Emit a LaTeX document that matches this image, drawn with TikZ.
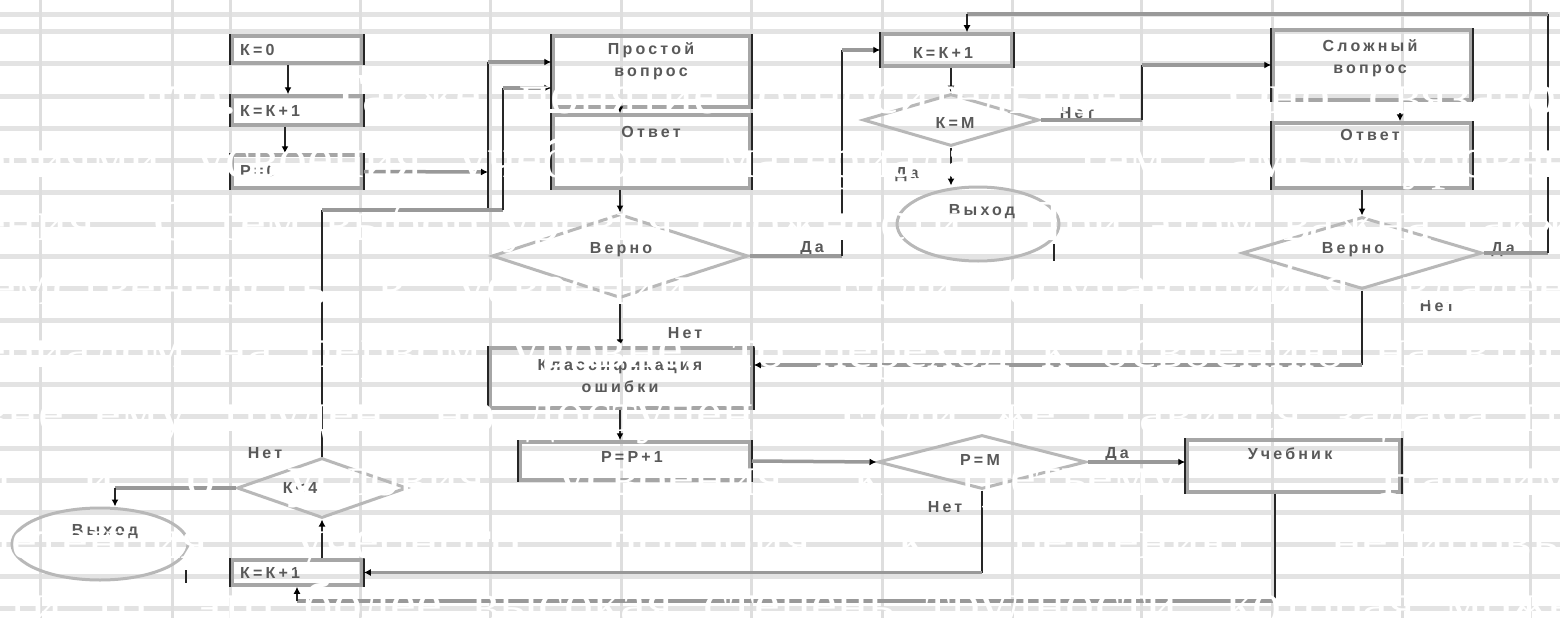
\documentclass[tikz,border=0pt]{standalone}
\usepackage{fontspec}
\setmainfont{Liberation Serif}
\newfontfamily\lblfont[LetterSpace=20]{Liberation Sans Bold}
\usetikzlibrary{arrows.meta,shapes.geometric,calc}
\newcommand\mybox[5]{%
  \node[fbox,minimum width={#4-#2},minimum height={#5-#3}] (#1) at ({(#2+#4)/2},{(#3+#5)/2}) {};
  \draw[vedge] (#1.north west) -- (#1.south west) (#1.north east) -- (#1.south east);}
\begin{document}
\begin{tikzpicture}[x=1pt,y=-1pt,
  gridv/.style={draw=black!13,line width=3pt},
  gridh/.style={draw=black!11,line width=5pt},
  fbox/.style={rectangle,draw=black!35,line width=3.5pt,inner sep=0pt},
  vedge/.style={draw=black!85,line width=2.4pt},
  dia/.style={diamond,draw=black!28,line width=3pt,inner sep=0pt},
  ell/.style={ellipse,draw=black!28,line width=3pt,inner sep=0pt},
  hl/.style={draw=black!40,line width=3.5pt},
  vl/.style={draw=black!85,line width=2.2pt},
  >={Latex[length=7pt,width=7pt,color=black]},
  lbl/.style={font=\lblfont\fontsize{16}{22}\selectfont,text=black!65,inner sep=0pt,align=center},
  wtxt/.style={font=\fontsize{58}{60}\selectfont,text=white,anchor=base west,inner sep=0pt}]
\useasboundingbox (0,0) rectangle (1560,618);
\fill[white] (0,0) rectangle (1560,618);
\clip (0,0) rectangle (1560,618);
% background grid
\foreach \yy in {15,32,64,96,128,160,192,224,256,288,320,352,384,416,448,480,512,544,576,608}
  \draw[gridh] (0,\yy) -- (1560,\yy);
\foreach \xx in {40,172,230,360,490,621,751,882,1012,1141,1272,1402,1530}
  \draw[gridv] (\xx,0) -- (\xx,618);
% boxes
\mybox{k0}{232}{36}{362}{63}
\mybox{k1}{232}{96}{362}{125}
\mybox{p0}{232}{155}{362}{188}
\mybox{q1}{553}{36}{750}{107}
\mybox{a1}{553}{115}{750}{188}
\mybox{e1}{490}{348}{752}{408}
\mybox{p1}{520}{442}{750}{480}
\mybox{u1}{1187}{440}{1400}{492}
\mybox{km}{882}{34}{1012}{66}
\mybox{q2}{1273}{30}{1471}{100}
\mybox{a2}{1273}{123}{1471}{188}
\mybox{k2}{232}{560}{362}{585}
% diamonds
\node[dia,minimum width=256pt,minimum height=84pt] (d1) at (620,256) {};
\node[dia,minimum width=176pt,minimum height=52pt] (d3) at (951,120) {};
\node[dia,minimum width=208pt,minimum height=54pt] (d2) at (982,462) {};
\node[dia,minimum width=240pt,minimum height=72pt] (d4) at (1362,253) {};
\node[dia,minimum width=170pt,minimum height=60pt] (d5) at (322,488) {};
% terminators
\node[ell,minimum width=162pt,minimum height=74pt] (x1) at (978,224) {};
\draw[vl] ($(x1.center)+(76,20)$) -- ($(x1.center)+(76,37)$);
\node[ell,minimum width=176pt,minimum height=72pt] (x2) at (100,544) {};
\draw[vl] ($(x2.center)+(86,26)$) -- ($(x2.center)+(86,39)$);
% labels
\node[lbl,anchor=west] (tk0) at (240,50) {К=0};
\node[lbl,anchor=west] (tk1) at (240,111) {К=К+1};
\node[lbl,anchor=west] (tp0) at (240,171) {Р=0};
\node[lbl,anchor=west] (tk2) at (240,573) {К=К+1};
\node[lbl] (tq1) at (651,61) {Простой\\вопрос};
\node[lbl] (ta1) at (651,132) {Ответ};
\node[lbl] (td1) at (621,250) {Верно};
\node[lbl] (tn1) at (685,333) {Нет};
\node[lbl] (te1) at (620,376) {Классификация\\ошибки};
\node[lbl] (tp1) at (632,457) {Р=Р+1};
\node[lbl] (td2) at (980,460) {Р=М};
\node[lbl] (tn2) at (945,507) {Нет};
\node[lbl] (ty2) at (1117,455) {Да};
\node[lbl] (tu1) at (1290,454) {Учебник};
\node[lbl] (ty1) at (812,249) {Да};
\node[lbl] (tkm) at (943,53) {К=К+1};
\node[lbl] (td3) at (955,123) {К=М};
\node[lbl] (tn3) at (1077,113) {Нет};
\node[lbl] (ty3) at (907,175) {Да};
\node[lbl] (tx1) at (982,212) {Выход};
\node[lbl] (tq2) at (1370,58) {Сложный\\вопрос};
\node[lbl] (ta2) at (1370,135) {Ответ};
\node[lbl] (td4) at (1353,250) {Верно};
\node[lbl] (ty4) at (1503,250) {Да};
\node[lbl] (tn4) at (1437,306) {Нет};
\node[lbl] (tn5) at (265,453) {Нет};
\node[lbl] (td5) at (300,488) {К<4};
\node[lbl] (tx2) at (105,532) {Выход};
% connectors: left column
\draw[vl,->] ([xshift=-9pt]k0.south) -- ([xshift=-9pt]k1.north);
\draw[vl,->] ([xshift=-12pt]k1.south) -- ([xshift=-12pt]p0.north);
\coordinate (jP) at (488,172);
\coordinate (jA) at (488,210);
\coordinate (jB) at (488,62);
\coordinate (jC) at (503,210);
\coordinate (jD) at (503,88);
\draw[hl,->] (p0.east) -- (jP);
\draw[vl] (jA) -- (jB);
\draw[hl,->] (jB) -- (jB -| q1.west);
\draw[vl] (d5.north) -- (d5.north |- jA);
\draw[hl] (d5.north |- jA) -- (jC);
\draw[vl] (jC) -- (jD);
\draw[hl,->] (jD) -- (jD -| q1.west);
% simple question branch
\draw[vl,->] (q1.south -| d1.north) -- (a1.north -| d1.north);
\draw[vl,->] (a1.south -| d1.north) -- (d1.north);
\coordinate (c842) at (842,50);
\draw[hl] (d1.east) -- (d1.east -| c842);
\draw[vl] (d1.east -| c842) -- (c842);
\draw[hl,->] (c842) -- (km.west);
\draw[vl,->] (d1.south) -- (e1.north -| d1.south);
\draw[vl,->] (e1.south -| d1.south) -- (p1.north -| d1.south);
% K=M part
\draw[vl,->] (km.south -| d3.north) -- (d3.north);
\draw[vl,->] (d3.south) -- (d3.south |- x1.north);
\coordinate (c1142) at (1142,65);
\draw[hl] (d3.east) -- (d3.east -| c1142);
\draw[vl] (d3.east -| c1142) -- (c1142);
\draw[hl,->] (c1142) -- (q2.west);
% complex question branch
\draw[vl,->] ([xshift=28pt]q2.south) -- ([xshift=28pt]a2.north);
\draw[vl,->] (a2.south -| d4.north) -- (d4.north);
\coordinate (c1548) at (1548,14);
\coordinate (c967) at (967,14);
\draw[hl] (d4.east) -- (d4.east -| c1548);
\draw[vl] (d4.east -| c1548) -- (c1548);
\draw[hl] (c1548) -- (c967);
\draw[vl,->] (c967) -- (c967 |- km.north);
\coordinate (c365) at (1366,365);
\draw[vl] (d4.south) -- (d4.south |- c365);
\draw[hl,->] (d4.south |- c365) -- (c365 -| e1.east);
% errors part
\draw[hl,->] (p1.east) -- (d2.west);
\draw[hl,->] (d2.east) -- (d2.east -| u1.west);
\draw[vl] (d2.south) -- (d2.south |- k2.east);
\draw[hl,->] (d2.south |- k2.east) -- (k2.east);
\coordinate (c600) at (1275,601);
\draw[vl] (u1.south -| c600) -- (c600);
\draw[hl] (c600) -- (c600 -| k2.south);
\draw[vl,->] (c600 -| k2.south) -- (k2.south);
\draw[vl,->] (k2.north -| d5.south) -- (d5.south);
\coordinate (c115) at (115,488);
\draw[hl] (d5.west) -- (c115);
\draw[vl,->] (c115) -- (c115 |- x2.north);
% overlaid white text
\node[wtxt] (r1) at (140,113) {\makebox[1480pt][s]{что. Также понятие относительное. Оно связано с}};
\node[wtxt] (r2) at (-20,177) {\makebox[1620pt][s]{ериями усвоения учебного материала. Тем самым уровень}};
\node[wtxt] (r3) at (-20,240) {\makebox[1620pt][s]{ения. С тем выбор уровня сложности. При этом важна также}};
\node[wtxt] (r4) at (-10,304) {\makebox[1600pt][s]{емственность в усвоении. Если обучающийся владеет}};
\node[wtxt] (r5) at (-20,367) {\makebox[1620pt][s]{ериалом на первом уровне, то переход к освоению на второ}};
\node[wtxt] (r6) at (-20,431) {\makebox[1620pt][s]{вне ему труден, но доступен. Если же ставится задача гра}};
\node[wtxt] (r7) at (-20,495) {\makebox[1620pt][s]{й и о условия усвоения к третьему. Наприме}};
\node[wtxt] (r8) at (-20,558) {\makebox[1620pt][s]{петенция учебного пособия к решению нетиповых}};
\node[wtxt] (r9) at (-20,622) {\makebox[1620pt][s]{сти то, это более высокая степень трудности, которая может}};
\end{tikzpicture}
\end{document}
